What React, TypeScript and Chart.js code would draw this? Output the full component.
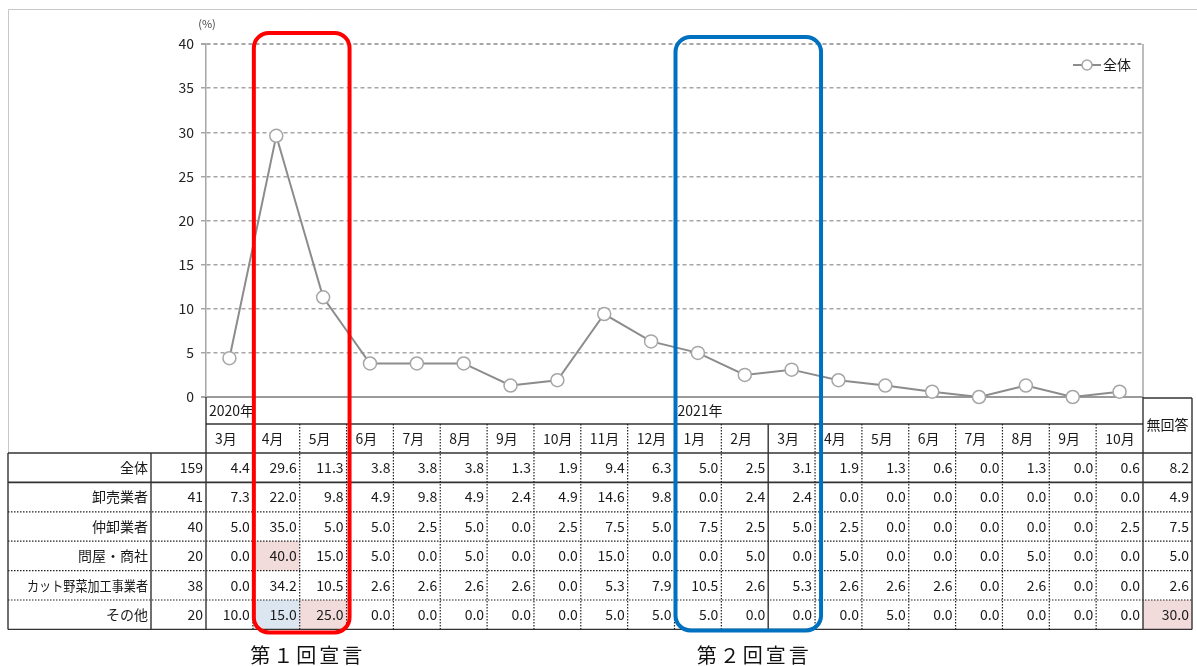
import React, { useEffect, useRef } from "react";
import { Chart, registerables } from "chart.js";

Chart.register(...registerables);

// ---------- data ----------
const months = ["3月", "4月", "5月", "6月", "7月", "8月", "9月", "10月", "11月", "12月", "1月", "2月", "3月", "4月", "5月", "6月", "7月", "8月", "9月", "10月"];
const yearStartIndex = [0, 10];
const yearText = ["2020年", "2021年"];
const yTickValues = [0, 5, 10, 15, 20, 25, 30, 35, 40];

const seriesName = "全体";
const overall = [4.4, 29.6, 11.3, 3.8, 3.8, 3.8, 1.3, 1.9, 9.4, 6.3, 5.0, 2.5, 3.1, 1.9, 1.3, 0.6, 0.0, 1.3, 0.0, 0.6];

const rowLabels = ["全体", "卸売業者", "仲卸業者", "問屋・商社", "カット野菜加工事業者", "その他"];
const rowN = [159, 41, 40, 20, 38, 20];
const rowOverall = overall;
const rowWholesale = [7.3, 22.0, 9.8, 4.9, 9.8, 4.9, 2.4, 4.9, 14.6, 9.8, 0.0, 2.4, 2.4, 0.0, 0.0, 0.0, 0.0, 0.0, 0.0, 0.0];
const rowIntermediate = [5.0, 35.0, 5.0, 5.0, 2.5, 5.0, 0.0, 2.5, 7.5, 5.0, 7.5, 2.5, 5.0, 2.5, 0.0, 0.0, 0.0, 0.0, 0.0, 2.5];
const rowTrading = [0.0, 40.0, 15.0, 5.0, 0.0, 5.0, 0.0, 0.0, 15.0, 0.0, 0.0, 5.0, 0.0, 5.0, 0.0, 0.0, 0.0, 5.0, 0.0, 0.0];
const rowCutVeg = [0.0, 34.2, 10.5, 2.6, 2.6, 2.6, 2.6, 0.0, 5.3, 7.9, 10.5, 2.6, 5.3, 2.6, 2.6, 2.6, 0.0, 2.6, 0.0, 0.0];
const rowOther = [10.0, 15.0, 25.0, 0.0, 0.0, 0.0, 0.0, 0.0, 5.0, 5.0, 5.0, 0.0, 0.0, 0.0, 5.0, 0.0, 0.0, 0.0, 0.0, 0.0];
const noAnswerLabel = "無回答";
const noAnswer = [8.2, 4.9, 7.5, 5.0, 2.6, 30.0];

// highlighted cells: [row, col] (col 20 = 無回答)
const pinkCells = [[3, 1], [5, 2], [5, 20]];
const blueCells = [[5, 1]];
const solidColBorders = [12]; // border left of this column is solid

const declarationText = ["第１回宣言", "第２回宣言"];
const declarationCols = [[1, 2], [10, 12]];
const declarationColors = ["#ff0000", "#0070c0"];

const FONT = "'Noto Sans CJK JP', 'Noto Sans', sans-serif";

function roundRect(ctx: CanvasRenderingContext2D, x: number, y: number, w: number, h: number, r: number) {
  ctx.beginPath();
  ctx.moveTo(x + r, y);
  ctx.lineTo(x + w - r, y);
  ctx.arcTo(x + w, y, x + w, y + r, r);
  ctx.lineTo(x + w, y + h - r);
  ctx.arcTo(x + w, y + h, x + w - r, y + h, r);
  ctx.lineTo(x + r, y + h);
  ctx.arcTo(x, y + h, x, y + h - r, r);
  ctx.lineTo(x, y + r);
  ctx.arcTo(x, y, x + r, y, r);
  ctx.closePath();
}

const tablePlugin = {
  id: "tablePlugin",
  beforeDraw(chart: any) {
    const ctx = chart.ctx as CanvasRenderingContext2D;
    ctx.save();
    ctx.fillStyle = "#ffffff";
    ctx.fillRect(0, 0, chart.width, chart.height);
    // outer frame
    ctx.strokeStyle = "#c8c8c8";
    ctx.lineWidth = 1;
    ctx.beginPath();
    ctx.moveTo(8.5, 453);
    ctx.lineTo(8.5, 9.5);
    ctx.lineTo(chart.width, 9.5);
    ctx.stroke();
    ctx.restore();
  },
  afterDraw(chart: any) {
    const ctx = chart.ctx as CanvasRenderingContext2D;
    const xs = chart.scales.x;
    const ys = chart.scales.y;
    const n = months.length;
    const colW = (xs.right - xs.left) / n;
    const colLeft = (i: number) => xs.getPixelForValue(i) - colW / 2;
    const colRight = (i: number) => xs.getPixelForValue(i) + colW / 2;
    const zeroY = ys.getPixelForValue(0);
    const topY = ys.getPixelForValue(40);
    const yearBottom = zeroY + 27;
    const headBottom = zeroY + 56;
    const rowH = 29.4;
    const rows = [rowOverall, rowWholesale, rowIntermediate, rowTrading, rowCutVeg, rowOther];
    const tableBottom = headBottom + rowH * rows.length;
    const tableLeft = 8;
    const labelRight = 151;
    const nRight = xs.left;
    const naLeft = xs.right;
    const naRight = xs.right + 49;
    const cellX = (c: number) => (c === n ? [naLeft, naRight] : [colLeft(c), colRight(c)]);

    ctx.save();
    // ---- highlights ----
    const fillCell = (r: number, c: number, color: string) => {
      const [l, rr] = cellX(c);
      ctx.fillStyle = color;
      ctx.fillRect(l, headBottom + r * rowH, rr - l, rowH);
    };
    pinkCells.forEach(([r, c]) => fillCell(r, c, "#f2dcdb"));
    blueCells.forEach(([r, c]) => fillCell(r, c, "#dce6f1"));

    // ---- lines ----
    const solid = (x1: number, y1: number, x2: number, y2: number, color = "#333", w = 1.4) => {
      ctx.setLineDash([]);
      ctx.strokeStyle = color;
      ctx.lineWidth = w;
      ctx.beginPath();
      ctx.moveTo(x1, y1);
      ctx.lineTo(x2, y2);
      ctx.stroke();
    };
    const dotted = (x1: number, y1: number, x2: number, y2: number) => {
      ctx.setLineDash([1.5, 1.5]);
      ctx.strokeStyle = "#222";
      ctx.lineWidth = 1.2;
      ctx.beginPath();
      ctx.moveTo(x1, y1);
      ctx.lineTo(x2, y2);
      ctx.stroke();
      ctx.setLineDash([]);
    };

    // plot right border
    solid(naLeft, topY, naLeft, zeroY, "#a6a6a6", 1.5);
    // header
    solid(nRight, yearBottom, naLeft, yearBottom);
    solid(naLeft, zeroY + 1, naRight, zeroY + 1);
    solid(tableLeft, headBottom, naRight, headBottom);
    // rows
    for (let r = 1; r <= rows.length; r++) {
      const yy = headBottom + r * rowH;
      if (r === 1 || r === rows.length) solid(tableLeft, yy, naRight, yy, "#333", r === 1 ? 1.6 : 1.4);
      else dotted(tableLeft, yy, naRight, yy);
    }
    // verticals
    solid(tableLeft, headBottom, tableLeft, tableBottom);
    solid(labelRight, headBottom, labelRight, tableBottom);
    solid(nRight, zeroY, nRight, tableBottom);
    for (let c = 1; c < n; c++) {
      const xx = colLeft(c);
      if (solidColBorders.includes(c)) solid(xx, yearBottom, xx, tableBottom);
      else dotted(xx, yearBottom, xx, tableBottom);
    }
    solid(naLeft, zeroY, naLeft, tableBottom);
    solid(naRight, zeroY + 1, naRight, tableBottom);

    // ---- texts ----
    ctx.fillStyle = "#1a1a1a";
    ctx.font = `14px ${FONT}`;
    ctx.textBaseline = "middle";
    ctx.textAlign = "left";
    yearStartIndex.forEach((ci, k) => {
      ctx.fillText(yearText[k], colLeft(ci) + 3, zeroY + 14);
    });
    months.forEach((m, i) => {
      ctx.fillText(m, colLeft(i) + 9, (yearBottom + headBottom) / 2);
    });
    ctx.textAlign = "center";
    ctx.fillText(noAnswerLabel, (naLeft + naRight) / 2, (zeroY + headBottom) / 2);

    ctx.textAlign = "right";
    rows.forEach((vals, r) => {
      const cy = headBottom + r * rowH + rowH / 2;
      ctx.fillText(rowLabels[r], labelRight - 3, cy, labelRight - tableLeft - 22);
      ctx.fillText(String(rowN[r]), nRight - 3, cy);
      vals.forEach((v, c) => {
        ctx.fillText(v.toFixed(1), colRight(c) - 3, cy);
      });
      ctx.fillText(noAnswer[r].toFixed(1), naRight - 3, cy);
    });

    // (%) unit
    ctx.textAlign = "center";
    ctx.font = `11px ${FONT}`;
    ctx.fillStyle = "#444";
    ctx.fillText("(%)", xs.left + 1, topY - 20);

    // legend
    const ly = topY + 21;
    const lx = xs.right - 70;
    solid(lx, ly, lx + 28, ly, "#8c8c8c", 2);
    ctx.beginPath();
    ctx.arc(lx + 14, ly, 5, 0, Math.PI * 2);
    ctx.fillStyle = "#fff";
    ctx.fill();
    ctx.strokeStyle = "#a6a6a6";
    ctx.lineWidth = 1.5;
    ctx.stroke();
    ctx.fillStyle = "#1a1a1a";
    ctx.font = `14px ${FONT}`;
    ctx.textAlign = "left";
    ctx.fillText(seriesName, lx + 30, ly);

    // declaration frames
    declarationCols.forEach(([a, b], k) => {
      const l = colLeft(a) + 1;
      const rr = colRight(b) + (k === 0 ? 3 : 6);
      const t = k === 0 ? topY - 11 : topY - 7;
      const bt = k === 0 ? tableBottom + 3 : tableBottom + 1;
      ctx.strokeStyle = declarationColors[k];
      ctx.lineWidth = 4;
      roundRect(ctx, l, t, rr - l, bt - t, 15);
      ctx.stroke();
      ctx.fillStyle = "#111";
      ctx.font = `20px ${FONT}`;
      (ctx as any).letterSpacing = "3px";
      ctx.textAlign = "center";
      ctx.fillText(declarationText[k], (l + rr) / 2 + 6, tableBottom + 26);
      (ctx as any).letterSpacing = "0px";
    });
    ctx.restore();
  },
};

export default function App() {
  const canvasRef = useRef<HTMLCanvasElement | null>(null);

  useEffect(() => {
    if (!canvasRef.current) return;
    const chart = new Chart(canvasRef.current, {
      type: "line",
      data: {
        labels: months,
        datasets: [
          {
            label: seriesName,
            data: overall,
            borderColor: "#8c8c8c",
            borderWidth: 2,
            pointRadius: 6.5,
            pointBackgroundColor: "#ffffff",
            pointBorderColor: "#a6a6a6",
            pointBorderWidth: 1.5,
            tension: 0,
            clip: false as any,
          },
        ],
      },
      options: {
        responsive: false,
        devicePixelRatio: 1,
        animation: false,
        events: [],
        layout: { padding: { left: 0, right: 54, top: 44, bottom: 269 } },
        plugins: {
          legend: { display: false },
          tooltip: { enabled: false },
        },
        scales: {
          x: {
            type: "category",
            offset: true,
            display: false,
          },
          y: {
            min: 0,
            max: 40,
            afterFit: (s: any) => {
              s.width = 206;
            },
            afterBuildTicks: (s: any) => {
              s.ticks = yTickValues.map((v) => ({ value: v }));
            },
            ticks: {
              padding: 7,
              color: "#222",
              font: { size: 14, family: FONT },
            },
            grid: {
              color: (c: any) => (c.tick && c.tick.value === 0 ? "#9a9a9a" : "#a6a6a6"),
              lineWidth: (c: any) => (c.tick && (c.tick.value === 0 || c.tick.value === 40) ? 2 : 1.5),
              tickLength: 5,
              tickColor: "#a6a6a6",
            },
            border: {
              color: "#a6a6a6",
              width: 1.5,
              dash: (c: any) => (c.tick && c.tick.value !== 0 ? [4, 3] : []),
            } as any,
          },
        },
      },
      plugins: [tablePlugin],
    });
    return () => chart.destroy();
  }, []);

  return (
    <div style={{ position: "absolute", left: 0, top: 0, width: 1197, height: 666, background: "#fff" }}>
      <canvas ref={canvasRef} width={1197} height={666} style={{ display: "block" }} />
    </div>
  );
}
